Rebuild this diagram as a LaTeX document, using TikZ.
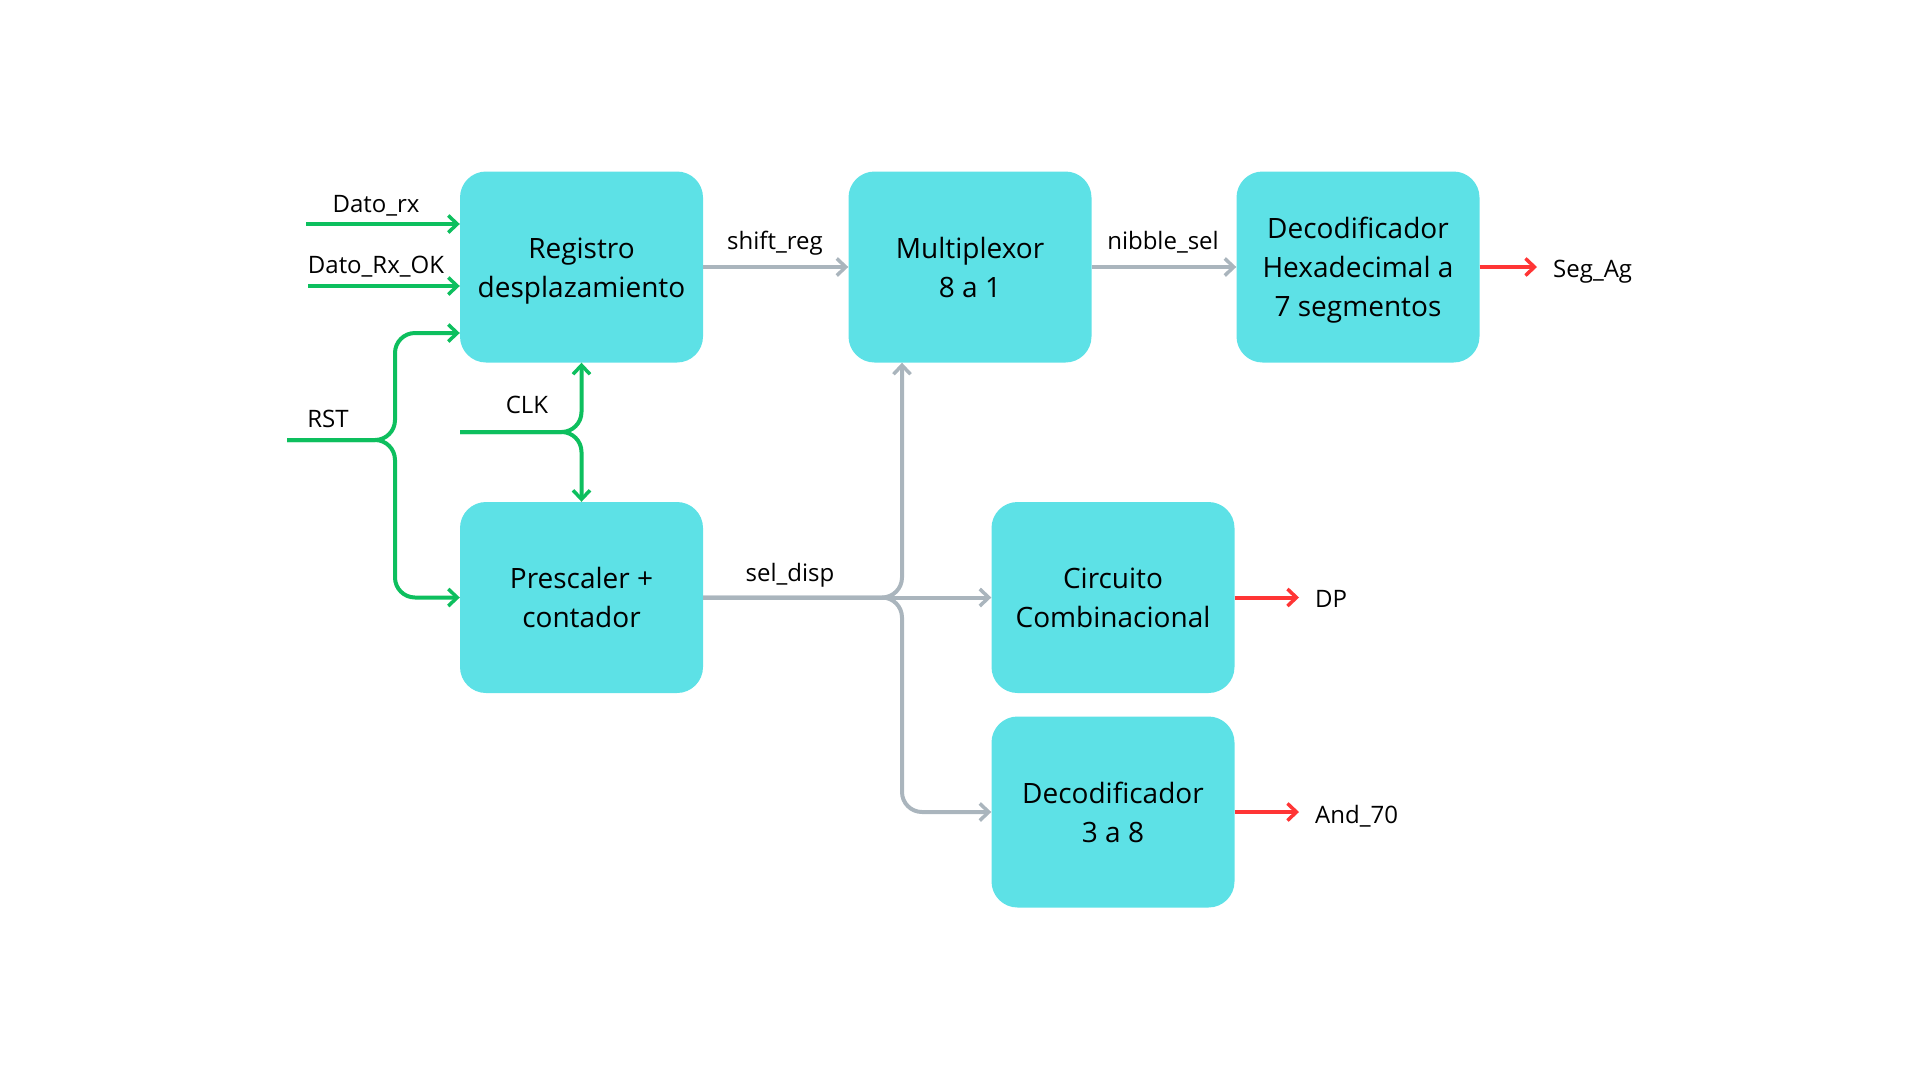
\documentclass[tikz,border=0pt]{standalone}
\usepackage{fontspec}
\setmainfont{Open Sans}
\usetikzlibrary{arrows.meta,calc}
\definecolor{boxc}{HTML}{5DE1E6}
\definecolor{grn}{HTML}{0DBF5E}
\definecolor{gry}{HTML}{AAB5BD}
\definecolor{rd}{HTML}{FF3535}
\newcommand{\lnst}{\rule[-8.7pt]{0pt}{39pt}}
\tikzset{
  blk/.style={fill=boxc, draw=none, rounded corners=26pt, minimum width=243pt, minimum height=191pt, align=center, inner sep=0pt, font=\fontsize{28}{39}\selectfont},
  lbl/.style={anchor=base, inner sep=0pt, font=\fontsize{24}{29}\selectfont},
  tip/.style={-{Straight Barb[length=9pt,width=17pt,line width=3.5pt]}},
  gline/.style={draw=grn, line width=4pt, rounded corners=20pt},
  yline/.style={draw=gry, line width=4pt, rounded corners=20pt},
  rline/.style={draw=rd, line width=4pt},
}
\begin{document}
\begin{tikzpicture}[x=1pt,y=-1pt]
\useasboundingbox (0,0) rectangle (1920,1080);
% blocks
\node[blk] (reg) at (581.5,267) {\lnst Registro\\\lnst desplazamiento};
\node[blk] (mux) at (970,267) {\lnst Multiplexor\\\lnst 8 a 1};
\node[blk] (hex) at (1358,267) {\lnst Decodificador\\\lnst Hexadecimal a\\\lnst 7 segmentos};
\node[blk] (pre) at (581.5,597.5) {\lnst Prescaler +\\\lnst contador};
\node[blk] (comb) at (1113,597.5) {\lnst Circuito\\\lnst Combinacional};
\node[blk] (dec) at (1113,812) {\lnst Decodificador\\\lnst 3 a 8};
% free ends
\coordinate (dx) at (306,224);
\coordinate (dok) at (308,286);
\coordinate (rst) at (287,440);
\coordinate (clk) at (460,432);
\coordinate (jn) at (902,597.5);
\coordinate (segE) at (1537,267);
\coordinate (dpE) at (1299,597.5);
\coordinate (anE) at (1299,812);
% green inputs
\draw[gline,tip] (dx) -- (dx -| reg.west);
\draw[gline,tip] (dok) -- (dok -| reg.west);
\draw[gline,tip] (rst) -- (395,440) |- ([yshift=-66pt]reg.west);
\draw[gline,tip] (rst) -- (395,440) |- (pre.west);
\draw[gline,tip] (clk) -| (reg.south);
\draw[gline,tip] (clk) -| (pre.north);
% gray buses
\draw[yline,tip] (reg.east) -- (mux.west);
\draw[yline,tip] (mux.east) -- (hex.west);
\draw[yline,tip] (pre.east) -- (comb.west);
\draw[yline,tip] (pre.east) -| ([xshift=-68pt]mux.south);
\draw[yline,tip] (pre.east) -- (jn) |- (dec.west);
% red outputs
\draw[rline,tip] (hex.east) -- (segE);
\draw[rline,tip] (comb.east) -- (dpE);
\draw[rline,tip] (dec.east) -- (anE);
% labels
\node[lbl] (ldx) at (376,212) {Dato\_rx};
\node[lbl] (ldok) at (376,273) {Dato\_Rx\_OK};
\node[lbl] (lrst) at (328,427) {RST};
\node[lbl] (lclk) at (527,413) {CLK};
\node[lbl] (lsr) at (775,249) {shift\_reg};
\node[lbl] (lns) at (1163,249) {nibble\_sel};
\node[lbl] (lsd) at (790,581) {sel\_disp};
\node[lbl,anchor=base west] (lseg) at (1553,277) {Seg\_Ag};
\node[lbl,anchor=base west] (ldp) at (1315,607) {DP};
\node[lbl,anchor=base west] (lan) at (1315,823) {And\_70};
\end{tikzpicture}
\end{document}
